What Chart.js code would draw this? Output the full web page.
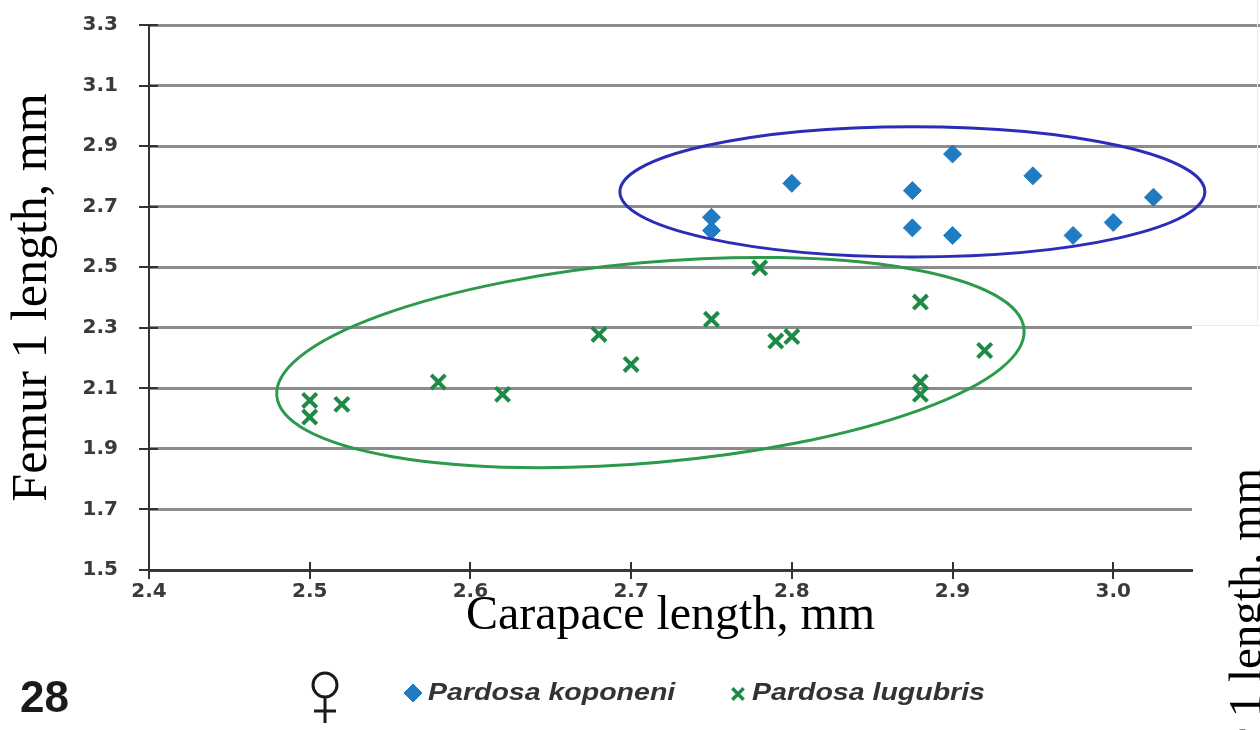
<!DOCTYPE html>
<html>
<head>
<meta charset="utf-8">
<title>Pardosa females - carapace vs femur 1</title>
<script src="https://cdn.jsdelivr.net/npm/chart.js@4.4.1/dist/chart.umd.min.js"></script>
<style>
    html, body { margin: 0; padding: 0; background: #fff; }
    #wrap { width: 1260px; height: 730px; }
</style>
</head>
<body>
<div id="wrap"><canvas id="femurChart" width="1260" height="730"></canvas></div>
<script>
// values (mm)
const koponeniX = [2.75, 2.75, 2.8, 2.875, 2.9, 2.95, 3.025, 2.875, 2.9, 2.975, 3.0];
const koponeniY = [2.665, 2.621, 2.777, 2.753, 2.874, 2.802, 2.731, 2.63, 2.605, 2.605, 2.648];

const lugubrisX = [2.5, 2.5, 2.52, 2.58, 2.62, 2.68, 2.7, 2.75, 2.78, 2.79, 2.8, 2.88, 2.88, 2.88, 2.92];
const lugubrisY = [2.06, 2.005, 2.047, 2.121, 2.08, 2.278, 2.179, 2.328, 2.498, 2.256, 2.271, 2.385, 2.121, 2.08, 2.225];

const xTicks = [2.4, 2.5, 2.6, 2.7, 2.8, 2.9, 3.0];
const yTicks = [1.5, 1.7, 1.9, 2.1, 2.3, 2.5, 2.7, 2.9, 3.1, 3.3];

// group outlines: centre x, centre y, half width (x units), half height (y units), tilt deg
const koponeniOutline = [2.875, 2.749, 0.182, 0.215, 0];
const lugubrisOutline = [2.712, 2.185, 0.2334, 0.3307, 5.1];

const koponeniColor = '#1f7cc3';
const lugubrisColor = '#1d8a47';

function toPoints(xs, ys) {
    return xs.map((x, i) => ({ x: x, y: ys[i] }));
}

// same snapping chart.js uses for its grid lines
function snap(pixel, width) {
    const half = width / 2;
    return Math.round(pixel - half) + half;
}

function drawOutline(chart, o, color) {
    const xs = chart.scales.x, ys = chart.scales.y;
    const cx = xs.getPixelForValue(o[0]);
    const cy = ys.getPixelForValue(o[1]);
    const rx = Math.abs(xs.getPixelForValue(o[0] + o[2]) - cx);
    const ry = Math.abs(ys.getPixelForValue(o[1] + o[3]) - cy);
    const ctx = chart.ctx;
    ctx.save();
    ctx.strokeStyle = color;
    ctx.lineWidth = 3;
    ctx.beginPath();
    ctx.ellipse(cx, cy, rx, ry, -o[4] * Math.PI / 180, 0, Math.PI * 2);
    ctx.stroke();
    ctx.restore();
}

function wideText(ctx, text, x, y, font, sx) {
    ctx.save();
    ctx.translate(x, y);
    ctx.scale(sx, 1);
    ctx.font = font;
    ctx.fillText(text, 0, 0);
    ctx.restore();
}

// venus sign drawn with thin strokes like the printed one
function femaleSign(ctx, x, y) {
    ctx.save();
    ctx.strokeStyle = '#1a1a1a';
    ctx.lineWidth = 3;
    ctx.beginPath();
    ctx.arc(x, y, 12, 0, Math.PI * 2);
    ctx.moveTo(x, y + 12);
    ctx.lineTo(x, y + 38);
    ctx.moveTo(x - 11, y + 26);
    ctx.lineTo(x + 11, y + 26);
    ctx.stroke();
    ctx.restore();
}

const figureExtras = {
    id: 'figureExtras',
    beforeDatasetsDraw(chart) {
        // upper grid lines run on past the plot to the page edge
        const ctx = chart.ctx, ys = chart.scales.y, area = chart.chartArea;
        ctx.save();
        ctx.strokeStyle = '#8c8c8c';
        ctx.lineWidth = 3;
        yTicks.filter(v => v >= 2.5).forEach(v => {
            const py = snap(ys.getPixelForValue(v), 3);
            ctx.beginPath();
            ctx.moveTo(area.right, py);
            ctx.lineTo(chart.width, py);
            ctx.stroke();
        });
        ctx.restore();
    },
    afterDatasetsDraw(chart) {
        drawOutline(chart, koponeniOutline, '#2b2db8');
        drawOutline(chart, lugubrisOutline, '#2c9a4b');
    },
    afterDraw(chart) {
        const ctx = chart.ctx, xs = chart.scales.x, ys = chart.scales.y;
        const area = chart.chartArea;

        // tick marks crossing both axes
        ctx.save();
        ctx.strokeStyle = '#333';
        ctx.lineWidth = 2;
        yTicks.forEach(v => {
            const py = snap(ys.getPixelForValue(v), 2);
            ctx.beginPath();
            ctx.moveTo(area.left - 10, py);
            ctx.lineTo(area.left + 9, py);
            ctx.stroke();
        });
        xTicks.forEach(v => {
            const px = snap(xs.getPixelForValue(v), 2);
            ctx.beginPath();
            ctx.moveTo(px, area.bottom - 8);
            ctx.lineTo(px, area.bottom + 9);
            ctx.stroke();
        });

        // faint edge of the neighbouring panel
        ctx.strokeStyle = '#ececec';
        ctx.lineWidth = 1;
        ctx.beginPath();
        ctx.moveTo(area.right, 325.5);
        ctx.lineTo(chart.width, 325.5);
        ctx.moveTo(1257.5, 0);
        ctx.lineTo(1257.5, 325);
        ctx.stroke();

        // figure number and sex sign
        ctx.fillStyle = '#1a1a1a';
        ctx.textAlign = 'left';
        ctx.textBaseline = 'alphabetic';
        ctx.font = 'bold 44px "Liberation Sans"';
        ctx.fillText('28', 20, 712);
        femaleSign(ctx, 325, 685);

        // legend
        ctx.fillStyle = koponeniColor;
        ctx.strokeStyle = koponeniColor;
        ctx.lineWidth = 1;
        Chart.helpers.drawPoint(ctx, { pointStyle: 'rectRot', radius: 9, borderWidth: 1 }, 413, 693);
        ctx.strokeStyle = lugubrisColor;
        ctx.lineWidth = 3.5;
        Chart.helpers.drawPoint(ctx, { pointStyle: 'crossRot', radius: 8, borderWidth: 3.5 }, 738, 694);
        ctx.fillStyle = '#333';
        ctx.textAlign = 'left';
        ctx.textBaseline = 'middle';
        wideText(ctx, 'Pardosa koponeni', 428, 694, 'italic bold 23px "Liberation Sans"', 1.24);
        wideText(ctx, 'Pardosa lugubris', 752, 694, 'italic bold 23px "Liberation Sans"', 1.24);

        // axis title of the next panel, cut by the page edge
        ctx.save();
        ctx.translate(1261, 468);
        ctx.rotate(-Math.PI / 2);
        ctx.fillStyle = '#000';
        ctx.textAlign = 'right';
        ctx.textBaseline = 'alphabetic';
        ctx.font = '47px "Liberation Serif"';
        ctx.fillText('Femur 1 length, mm', 0, 0);
        ctx.restore();
        ctx.restore();
    }
};

const tickFont = { family: 'DejaVu Sans', weight: 'bold', size: 20 };

const femurCtx = document.getElementById('femurChart').getContext('2d');
window.femurChart = new Chart(femurCtx, {
    type: 'scatter',
    data: {
        datasets: [{
            label: 'Pardosa koponeni',
            data: toPoints(koponeniX, koponeniY),
            pointStyle: 'rectRot',
            pointRadius: 9,
            backgroundColor: koponeniColor,
            borderColor: koponeniColor,
            borderWidth: 1
        }, {
            label: 'Pardosa lugubris',
            data: toPoints(lugubrisX, lugubrisY),
            pointStyle: 'crossRot',
            pointRadius: 10,
            backgroundColor: lugubrisColor,
            borderColor: lugubrisColor,
            borderWidth: 4
        }]
    },
    options: {
        responsive: false,
        animation: false,
        devicePixelRatio: 1,
        layout: {
            padding: { top: 25, right: 68, left: 0, bottom: 0 }
        },
        plugins: {
            legend: { display: false },
            tooltip: { enabled: false }
        },
        scales: {
            x: {
                type: 'linear',
                min: 2.4,
                max: 3.049,
                afterBuildTicks: scale => { scale.ticks = xTicks.map(v => ({ value: v })); },
                afterFit: scale => {
                    scale.height = 160;
                    scale.paddingLeft = 0;
                    scale.paddingRight = 0;
                },
                grid: { display: false },
                border: { display: true, color: '#3a3a3a', width: 3 },
                ticks: {
                    callback: v => v.toFixed(1),
                    font: tickFont,
                    color: '#3a3a3a',
                    padding: 2
                },
                title: {
                    display: true,
                    text: 'Carapace length, mm',
                    font: { family: 'Liberation Serif', size: 48 },
                    color: '#000',
                    padding: { top: 0, bottom: 85 }
                }
            },
            y: {
                min: 1.5,
                max: 3.3,
                afterBuildTicks: scale => { scale.ticks = yTicks.map(v => ({ value: v })); },
                afterFit: scale => {
                    scale.width = 149;
                    scale.paddingTop = 0;
                    scale.paddingBottom = 0;
                },
                grid: { color: '#8c8c8c', lineWidth: 3, drawTicks: false },
                border: { display: true, color: '#333', width: 2 },
                ticks: {
                    callback: v => v.toFixed(1),
                    font: tickFont,
                    color: '#3a3a3a',
                    padding: 31
                },
                title: {
                    display: true,
                    text: 'Femur 1 length, mm',
                    font: { family: 'Liberation Serif', size: 50 },
                    color: '#000',
                    padding: { top: 3, bottom: 0 }
                }
            }
        }
    },
    plugins: [figureExtras]
});
</script>
</body>
</html>
